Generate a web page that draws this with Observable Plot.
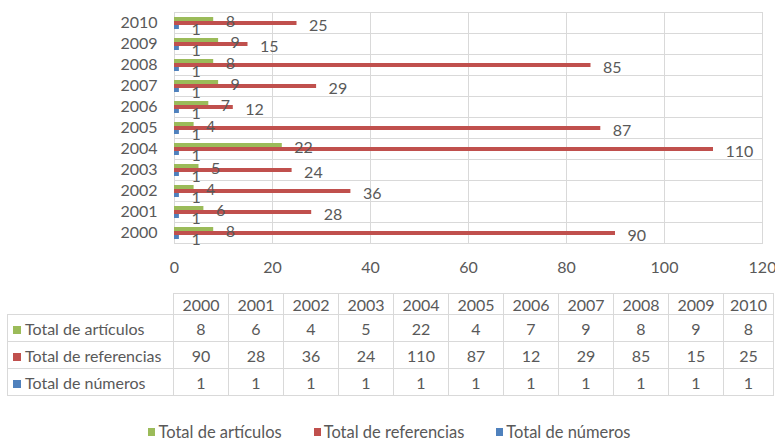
<!DOCTYPE html>
<html>
<head>
<meta charset="utf-8">
<script src="https://cdn.jsdelivr.net/npm/d3@7"></script>
<script src="https://cdn.jsdelivr.net/npm/@observablehq/plot@0.6"></script>
<style>
  html, body { margin: 0; padding: 0; background: #fff; }
  body { width: 775px; height: 444px; overflow: hidden; font-family: Lato, "Open Sans", sans-serif; color: #595959; }
  #chart svg { display: block; }
  table.dt { border-collapse: collapse; margin-top: 8px; margin-left: 7px; font-size: 16px; color: #595959; table-layout: fixed; }
  table.dt td, table.dt th { border: 1px solid #d9d9d9; padding: 0; text-align: center; font-weight: normal; }
  table.dt tr.hdr td { height: 20px; }
  table.dt tr.row td { height: 26px; }
  table.dt td.blank { border-top: none; border-left: none; }
  table.dt td.name { text-align: left; padding-left: 5px; white-space: nowrap; }
  .sq { display: inline-block; width: 8px; height: 8px; margin-right: 4px; vertical-align: 1px; }
  .legend { display: flex; justify-content: center; gap: 32px; margin-top: 26px; font-size: 16.5px; padding-left: 4px; }
  .legend span.item { white-space: nowrap; }
  .legend .sq { width: 7px; height: 8px; margin-right: 3px; vertical-align: 2px; }
</style>
</head>
<body>
<div id="chart"></div>
<div id="table"></div>
<div id="legend" class="legend"></div>
<script>
const years = ["2000","2001","2002","2003","2004","2005","2006","2007","2008","2009","2010"];
const articulos = [8, 6, 4, 5, 22, 4, 7, 9, 8, 9, 8];
const referencias = [90, 28, 36, 24, 110, 87, 12, 29, 85, 15, 25];
const numeros = [1, 1, 1, 1, 1, 1, 1, 1, 1, 1, 1];
const seriesNames = ["Total de artículos", "Total de referencias", "Total de números"];
const seriesColors = ["#9bbb59", "#c0504d", "#4f81bd"];
const xTicks = [0, 20, 40, 60, 80, 100, 120];

const seriesValues = [articulos, referencias, numeros];
const rows = years.flatMap((year, i) =>
  seriesNames.map((series, s) => ({year, series, value: seriesValues[s][i]}))
);

const chart = Plot.plot({
  width: 775,
  height: 285,
  marginLeft: 174,
  marginRight: 13,
  marginTop: 8,
  marginBottom: 38,
  style: {fontFamily: "Lato, 'Open Sans', sans-serif", fontSize: "16px", color: "#595959", background: "white"},
  x: {domain: [0, 120], ticks: xTicks, tickSize: 0, tickPadding: 18, label: null, axis: "bottom"},
  fy: {domain: years.slice().reverse(), padding: 0, label: null, tickSize: 0, tickPadding: 17, axis: "left"},
  y: {domain: seriesNames, axis: null, paddingInner: 0, paddingOuter: 0.76, align: 0.6},
  color: {domain: seriesNames, range: seriesColors},
  facet: {data: rows, y: "year"},
  marks: [
    Plot.ruleX(xTicks, {stroke: "#d9d9d9"}),
    Plot.frame({stroke: "#d9d9d9"}),
    Plot.barX(rows, {x: "value", y: "series", fill: "series"}),
    Plot.text(rows, {x: "value", y: "series", text: "value", textAnchor: "start", dx: 12, dy: 2, fill: "#595959"})
  ]
});
document.getElementById("chart").appendChild(chart);

// data table
const colW = years.map((y, i) => i === years.length - 1 ? 50 : 55);
let html = '<table class="dt"><colgroup><col style="width:166px">' +
  colW.map(w => `<col style="width:${w}px">`).join("") + '</colgroup>';
html += '<tr class="hdr"><td class="blank"></td>' + years.map(y => `<td>${y}</td>`).join("") + '</tr>';
seriesNames.forEach((name, s) => {
  html += `<tr class="row"><td class="name"><span class="sq" style="background:${seriesColors[s]}"></span>${name}</td>` +
    seriesValues[s].map(v => `<td>${v}</td>`).join("") + '</tr>';
});
html += '</table>';
document.getElementById("table").innerHTML = html;

// legend
document.getElementById("legend").innerHTML = seriesNames.map((name, s) =>
  `<span class="item"><span class="sq" style="background:${seriesColors[s]}"></span>${name}</span>`
).join("");
</script>
</body>
</html>
